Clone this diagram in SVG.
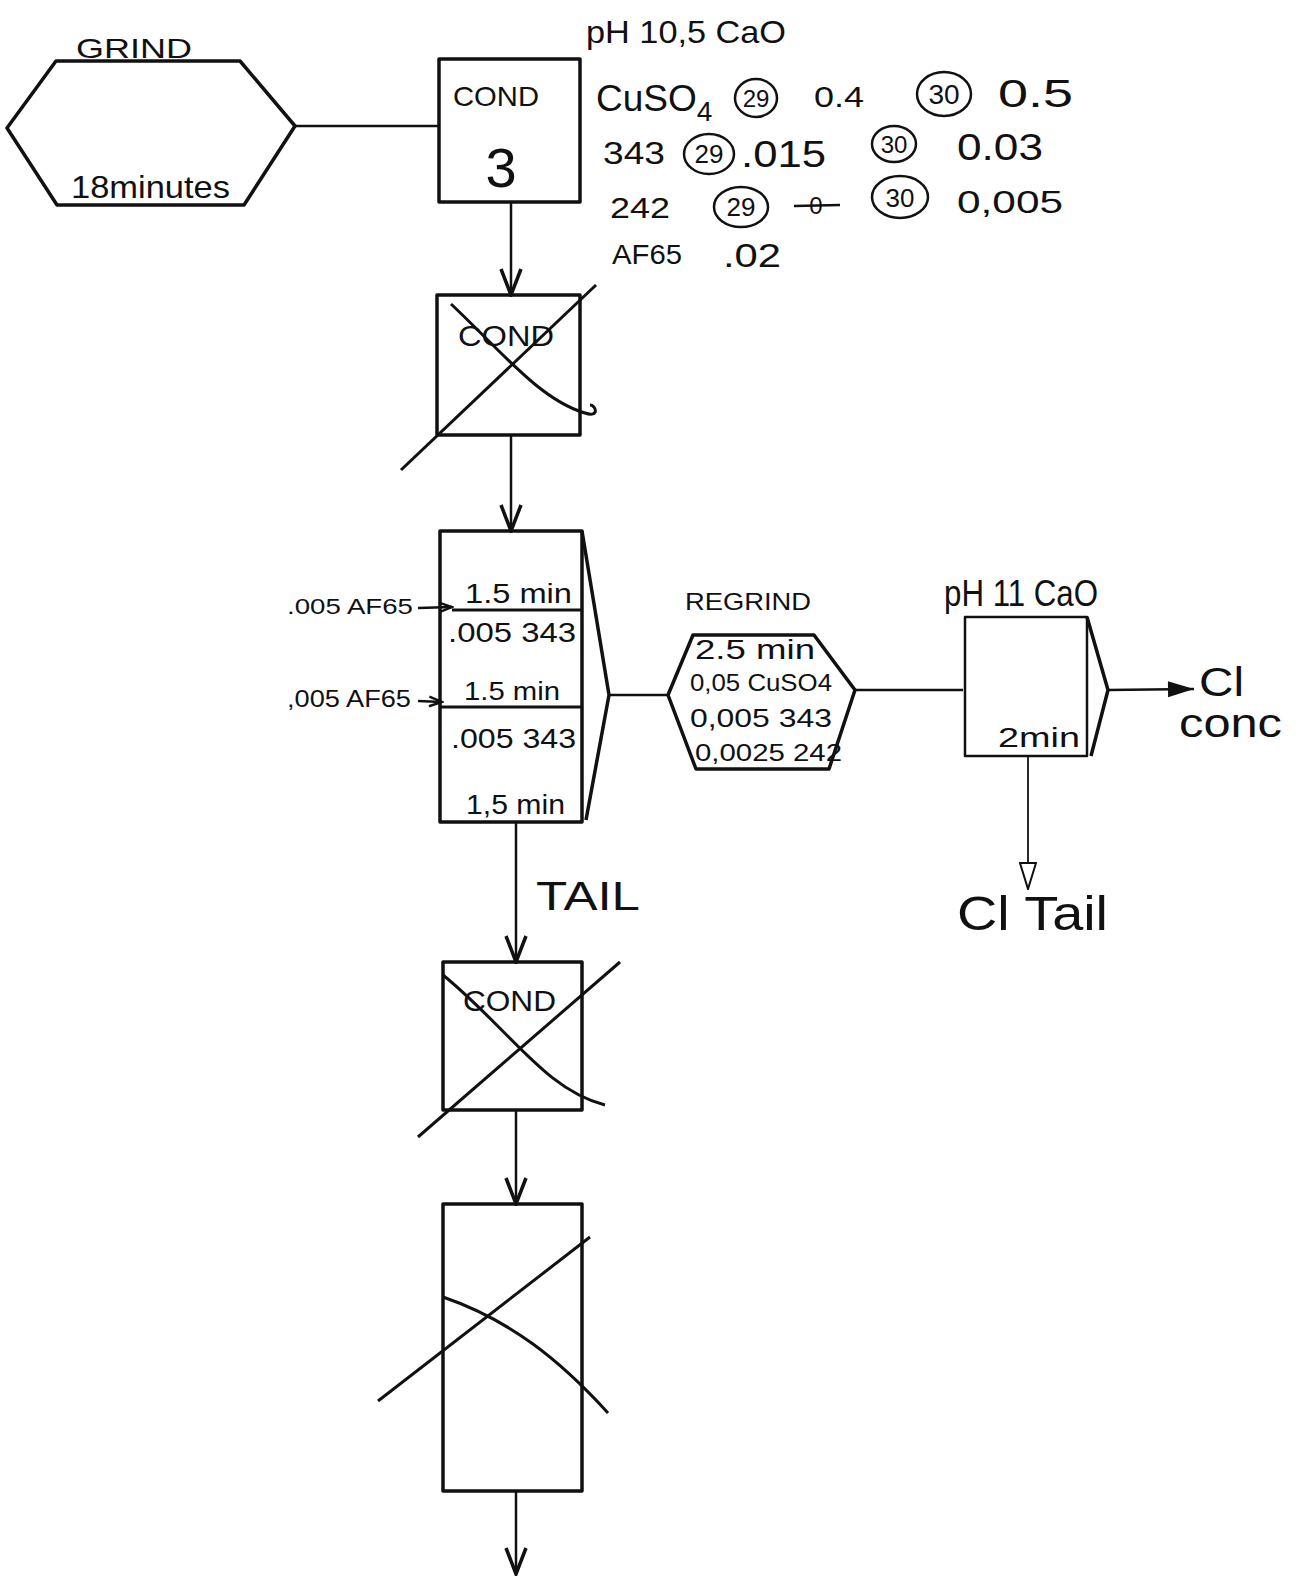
<svg xmlns="http://www.w3.org/2000/svg" width="1302" height="1580" viewBox="0 0 1302 1580">
<defs>
<marker id="v" viewBox="0 0 30 24" refX="28" refY="12" markerWidth="30" markerHeight="24" markerUnits="userSpaceOnUse" orient="auto">
<path d="M2,2 L28,12 L2,22" fill="none" stroke="#111" stroke-width="3.5" stroke-linejoin="miter"/>
</marker>
<marker id="tri" viewBox="0 0 28 18" refX="27" refY="9" markerWidth="28" markerHeight="18" markerUnits="userSpaceOnUse" orient="auto">
<path d="M1,1 L27,9 L1,17 Z" fill="#fff" stroke="#111" stroke-width="2"/>
</marker>
<marker id="fill" viewBox="0 0 30 20" refX="28" refY="10" markerWidth="30" markerHeight="20" markerUnits="userSpaceOnUse" orient="auto">
<path d="M2,2 L28,10 L2,18 Z" fill="#111"/>
</marker>
<marker id="sm" viewBox="0 0 20 16" refX="18" refY="8" markerWidth="16" markerHeight="13" markerUnits="userSpaceOnUse" orient="auto">
<path d="M2,2 L18,8 L2,14" fill="none" stroke="#111" stroke-width="3"/>
</marker>
</defs>
<style>
.b{fill:none;stroke:#111;stroke-width:3.5;stroke-linejoin:round}
.x{fill:none;stroke:#111;stroke-width:3}
.c{fill:none;stroke:#111;stroke-width:2.5}
.ov{fill:none;stroke:#111;stroke-width:2.5}
text{font-family:"Liberation Sans","DejaVu Sans",sans-serif;fill:#111}
</style>
<rect width="1302" height="1580" fill="#fff"/>

<g id="connectors">
<line class="c" x1="295" y1="126" x2="439" y2="126"/>
<line class="c" x1="511" y1="202" x2="511" y2="295" marker-end="url(#v)"/>
<line class="c" x1="511" y1="435" x2="511" y2="531" marker-end="url(#v)"/>
<line class="c" x1="609" y1="695" x2="668" y2="695"/>
<line class="c" x1="855" y1="690" x2="963" y2="690"/>
<line class="c" x1="1108" y1="690" x2="1194" y2="689" marker-end="url(#fill)"/>
<line x1="1028" y1="756" x2="1028" y2="889" stroke="#111" stroke-width="1.8" marker-end="url(#tri)"/>
<line class="c" x1="516" y1="822" x2="516" y2="962" marker-end="url(#v)"/>
<line class="c" x1="516" y1="1110" x2="516" y2="1204" marker-end="url(#v)"/>
<line class="c" x1="516" y1="1491" x2="516" y2="1574" marker-end="url(#v)"/>
<line class="c" x1="418" y1="608" x2="452" y2="607" marker-end="url(#sm)"/>
<line class="c" x1="418" y1="701" x2="442" y2="702" marker-end="url(#sm)"/>
</g>

<g id="grind">
<polygon class="b" points="56,61 240,61 295,126 244,205 57,205 7,128"/>
<text x="76" y="58" font-size="28" textLength="116" lengthAdjust="spacingAndGlyphs">GRIND</text>
<text x="71" y="198" font-size="32" textLength="159" lengthAdjust="spacingAndGlyphs">18minutes</text>
</g>

<g id="cond3">
<rect class="b" x="439" y="59" width="141" height="143"/>
<text x="453" y="106" font-size="28" textLength="86" lengthAdjust="spacingAndGlyphs">COND</text>
<text x="501" y="187" font-size="56" text-anchor="middle">3</text>
</g>

<g id="reagents">
<text x="586" y="43" font-size="32" textLength="200" lengthAdjust="spacingAndGlyphs">pH 10,5 CaO</text>
<text x="596" y="111" font-size="37">CuSO<tspan font-size="28" dy="10">4</tspan></text>
<ellipse class="ov" cx="756" cy="98" rx="21" ry="19"/>
<text x="756" y="107" font-size="24" text-anchor="middle">29</text>
<text x="814" y="107" font-size="30" textLength="50" lengthAdjust="spacingAndGlyphs">0.4</text>
<ellipse class="ov" cx="944" cy="94" rx="27" ry="22"/>
<text x="944" y="104" font-size="28" text-anchor="middle">30</text>
<text x="998" y="107" font-size="38" textLength="75" lengthAdjust="spacingAndGlyphs">0.5</text>

<text x="603" y="164" font-size="32" textLength="62" lengthAdjust="spacingAndGlyphs">343</text>
<ellipse class="ov" cx="709" cy="154" rx="25" ry="20"/>
<text x="709" y="163" font-size="26" text-anchor="middle">29</text>
<text x="741" y="167" font-size="36" textLength="85" lengthAdjust="spacingAndGlyphs">.015</text>
<ellipse class="ov" cx="894" cy="144" rx="22" ry="18"/>
<text x="894" y="153" font-size="24" text-anchor="middle">30</text>
<text x="957" y="160" font-size="36" textLength="86" lengthAdjust="spacingAndGlyphs">0.03</text>

<text x="610" y="218" font-size="30" textLength="60" lengthAdjust="spacingAndGlyphs">242</text>
<ellipse class="ov" cx="741" cy="207" rx="27" ry="20"/>
<text x="741" y="216" font-size="26" text-anchor="middle">29</text>
<text x="816" y="214" font-size="24" text-anchor="middle">0</text>
<line x1="794" y1="206" x2="840" y2="205" stroke="#111" stroke-width="2.5"/>
<ellipse class="ov" cx="900" cy="197" rx="28" ry="21"/>
<text x="900" y="207" font-size="26" text-anchor="middle">30</text>
<text x="957" y="213" font-size="32" textLength="106" lengthAdjust="spacingAndGlyphs">0,005</text>

<text x="612" y="264" font-size="28" textLength="70" lengthAdjust="spacingAndGlyphs">AF65</text>
<text x="723" y="267" font-size="34" textLength="58" lengthAdjust="spacingAndGlyphs">.02</text>
</g>

<g id="cond-x1">
<rect class="b" x="437" y="295" width="143" height="140"/>
<text x="458" y="346" font-size="30" textLength="96" lengthAdjust="spacingAndGlyphs">COND</text>
<line class="x" x1="401" y1="470" x2="596" y2="285"/>
<path class="x" d="M451,304 C500,350 540,400 585,413 C600,418 596,405 590,405"/>
</g>

<g id="rougher">
<rect class="b" x="440" y="531" width="142" height="291"/>
<polyline class="b" points="582,531 609,695 586,820"/>
<line class="x" x1="452" y1="610" x2="582" y2="610"/>
<line class="x" x1="440" y1="707" x2="582" y2="707"/>
<text x="465" y="603" font-size="27" textLength="107" lengthAdjust="spacingAndGlyphs">1.5 min</text>
<text x="448" y="642" font-size="28" textLength="128" lengthAdjust="spacingAndGlyphs">.005 343</text>
<text x="464" y="700" font-size="26" textLength="96" lengthAdjust="spacingAndGlyphs">1.5 min</text>
<text x="451" y="748" font-size="28" textLength="125" lengthAdjust="spacingAndGlyphs">.005 343</text>
<text x="466" y="814" font-size="28" textLength="99" lengthAdjust="spacingAndGlyphs">1,5 min</text>
<text x="287" y="614" font-size="22" textLength="126" lengthAdjust="spacingAndGlyphs">.005 AF65</text>
<text x="287" y="707" font-size="24" textLength="124" lengthAdjust="spacingAndGlyphs">,005 AF65</text>
</g>

<g id="regrind">
<polygon class="b" points="693,635 814,635 855,690 829,769 696,769 668,695"/>
<text x="685" y="610" font-size="24" textLength="126" lengthAdjust="spacingAndGlyphs">REGRIND</text>
<text x="695" y="659" font-size="28" textLength="120" lengthAdjust="spacingAndGlyphs">2.5 min</text>
<text x="690" y="691" font-size="24" textLength="142" lengthAdjust="spacingAndGlyphs">0,05 CuSO4</text>
<text x="690" y="727" font-size="26" textLength="142" lengthAdjust="spacingAndGlyphs">0,005 343</text>
<text x="695" y="761" font-size="24" textLength="147" lengthAdjust="spacingAndGlyphs">0,0025 242</text>
</g>

<g id="cleaner">
<rect class="b" x="965" y="617" width="122" height="139" style="stroke-width:2.5"/>
<polyline class="b" points="1087,617 1108,690 1091,756"/>
<text x="944" y="606" font-size="36" textLength="154" lengthAdjust="spacingAndGlyphs">pH 11 CaO</text>
<text x="998" y="747" font-size="28" textLength="82" lengthAdjust="spacingAndGlyphs">2min</text>
</g>

<g id="cl-conc">
<text x="1199" y="696" font-size="40" textLength="45" lengthAdjust="spacingAndGlyphs">Cl</text>
<text x="1179" y="737" font-size="40" textLength="103" lengthAdjust="spacingAndGlyphs">conc</text>
</g>

<g id="cl-tail">
<text x="957" y="930" font-size="48" textLength="151" lengthAdjust="spacingAndGlyphs">Cl Tail</text>
</g>

<text x="536" y="910" font-size="40" textLength="104" lengthAdjust="spacingAndGlyphs">TAIL</text>

<g id="cond-x2">
<rect class="b" x="443" y="962" width="139" height="148"/>
<text x="463" y="1011" font-size="30" textLength="93" lengthAdjust="spacingAndGlyphs">COND</text>
<line class="x" x1="418" y1="1137" x2="620" y2="962"/>
<path class="x" d="M443,975 C510,1030 545,1090 605,1105"/>
</g>

<g id="cell-x">
<rect class="b" x="443" y="1204" width="139" height="287"/>
<line class="x" x1="378" y1="1401" x2="590" y2="1237"/>
<path class="x" d="M443,1297 C510,1320 560,1360 608,1413"/>
</g>
</svg>
